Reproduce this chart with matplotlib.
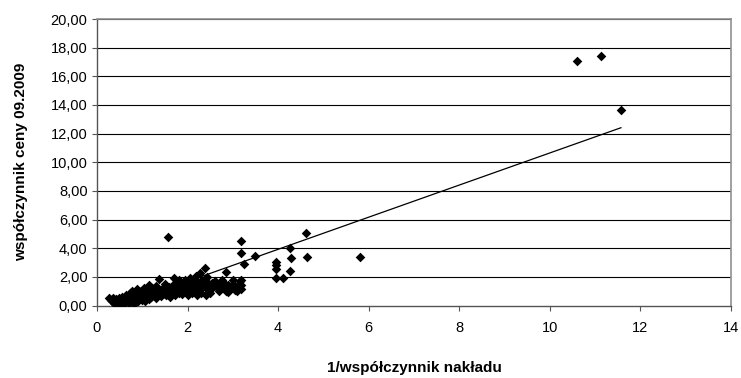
import matplotlib
matplotlib.use("Agg")
import matplotlib.pyplot as plt
from matplotlib.ticker import FuncFormatter
import numpy as np

plt.rcParams['font.family'] = ['Liberation Sans', 'DejaVu Sans']

# 1/współczynnik nakładu (x) and współczynnik ceny 09.2009 (y)
x_vals = [0.27, 0.30, 0.33, 0.35, 0.38, 0.40, 0.42, 0.45, 0.45, 0.48, 0.50, 0.50,
          0.53, 0.55, 0.57, 0.58, 0.60, 0.60, 0.63, 0.65, 0.67, 0.70, 0.70, 0.72,
          0.75, 0.77, 0.78, 0.80, 0.80, 0.83, 0.85, 0.87, 0.88, 0.90, 0.92, 0.95,
          0.97, 1.00, 1.00, 1.03, 1.05, 1.07, 1.10, 1.12, 1.15, 1.15, 1.18, 1.20,
          1.22, 1.25, 1.28, 1.30, 1.30, 1.33, 1.35, 1.38, 1.40, 1.42, 1.45, 1.48,
          1.50, 1.50, 1.53, 1.55, 1.58, 1.60, 1.62, 1.65, 1.67, 1.70, 1.70, 1.72,
          1.75, 1.78, 1.80, 1.80, 1.83, 1.85, 1.88, 1.90, 1.92, 1.95, 1.97, 2.00,
          2.00, 2.03, 2.05, 2.07, 2.10, 2.10, 2.13, 2.15, 2.18, 2.20, 2.20, 2.22,
          2.25, 2.27, 2.30, 2.30, 2.32, 2.35, 2.38, 2.40, 2.40, 2.42, 2.45, 2.50,
          2.55, 2.60, 2.65, 2.70, 2.75, 2.80, 2.85, 2.85, 2.90, 2.95, 3.00, 3.05,
          3.10, 3.15, 3.19, 3.19, 3.19, 3.19, 3.19, 3.25, 3.49, 3.95, 3.95, 3.95,
          3.95, 4.10, 4.26, 4.28, 4.26, 4.61, 4.63, 5.80, 1.57, 10.60, 11.13, 11.57,
          2.50, 2.60, 2.70, 2.75, 2.90, 3.00, 3.10, 2.55, 0.40, 0.62, 0.85, 1.05]
y_vals = [0.55, 0.40, 0.30, 0.50, 0.20, 0.35, 0.45, 0.15, 0.30, 0.50, 0.25, 0.10,
          0.40, 0.60, 0.20, 0.35, 0.50, 0.12, 0.70, 0.30, 0.45, 0.20, 0.60, 0.85,
          0.35, 0.50, 1.00, 0.15, 0.70, 0.40, 0.90, 0.60, 1.15, 0.30, 0.80, 0.50,
          1.00, 0.70, 0.35, 1.25, 0.90, 0.55, 1.10, 0.75, 0.45, 1.40, 0.95, 0.60,
          1.20, 0.80, 1.00, 0.55, 1.35, 0.75, 1.10, 1.85, 0.90, 0.65, 1.20, 1.00,
          0.80, 1.50, 0.70, 1.10, 1.30, 0.90, 0.60, 1.20, 1.45, 1.00, 1.95, 0.75,
          1.60, 1.25, 0.90, 1.80, 1.40, 1.10, 0.80, 1.55, 1.30, 1.75, 1.00, 0.75,
          1.35, 1.60, 1.90, 1.15, 0.85, 1.50, 1.75, 1.30, 2.05, 1.00, 0.75, 1.60,
          1.40, 2.25, 1.20, 0.90, 1.80, 1.50, 2.60, 1.25, 0.75, 2.00, 1.60, 1.35,
          1.20, 1.40, 1.30, 1.45, 1.20, 1.60, 2.35, 1.00, 1.40, 1.25, 1.50, 1.10,
          1.30, 1.70, 1.45, 1.15, 1.80, 3.68, 4.52, 2.87, 3.45, 3.06, 2.83, 2.55,
          1.90, 1.90, 4.00, 3.34, 2.41, 5.08, 3.40, 3.40, 4.76, 17.05, 17.45, 13.65,
          0.90, 1.70, 1.00, 1.75, 0.95, 1.80, 1.00, 1.60, 0.08, 0.25, 0.20, 0.30]

# linear trend line (as drawn in the source chart)
trend_slope = 1.121
trend_intercept = -0.56

x_ticks = [0, 2, 4, 6, 8, 10, 12, 14]
y_ticks = [0, 2, 4, 6, 8, 10, 12, 14, 16, 18, 20]
x_label = "1/współczynnik nakładu"
y_label = "współczynnik ceny 09.2009"

fig = plt.figure(figsize=(7.41, 3.78), dpi=100)
ax = fig.add_axes([97/741, 1-305.5/378, (731-97)/741, (305.5-19)/378])

for yt in y_ticks[1:]:
    ax.axhline(yt, color='black', lw=0.8, zorder=1)

ax.scatter(x_vals, y_vals, marker='D', s=24, color='black', zorder=3, linewidths=0)

xt = np.array([min(x_vals), max(x_vals)])
ax.plot(xt, trend_slope*xt + trend_intercept, color='black', lw=0.9, zorder=4)

ax.set_xlim(0, 14)
ax.set_ylim(0, 20)
ax.set_xticks(x_ticks)
ax.set_yticks(y_ticks)
ax.yaxis.set_major_formatter(FuncFormatter(lambda v, p: f"{v:.2f}".replace('.', ',')))
ax.xaxis.set_major_formatter(FuncFormatter(lambda v, p: f"{int(v)}"))

for s in ['left', 'bottom']:
    ax.spines[s].set_color('#555555')
    ax.spines[s].set_linewidth(1.0)
for s in ['top', 'right']:
    ax.spines[s].set_color('#909090')
    ax.spines[s].set_linewidth(1.2)

ax.tick_params(axis='both', direction='out', length=3.8, width=0.8, color='#555555',
               labelsize=10.5, pad=3)
ax.tick_params(axis='x', pad=7)

ax.set_xlabel(x_label, fontsize=11, fontweight='bold', labelpad=19)
ax.set_ylabel(y_label, fontsize=11, fontweight='bold', labelpad=16)

fig.savefig("out.png", dpi=100)
